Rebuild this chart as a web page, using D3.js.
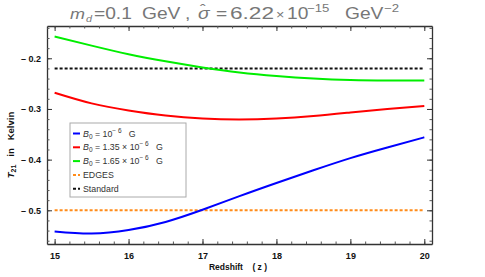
<!DOCTYPE html>
<html>
<head>
<meta charset="utf-8">
<script src="https://cdn.jsdelivr.net/npm/d3@7"></script>
<style>
  body { margin: 0; background: #fff; }
  svg { display: block; }
</style>
</head>
<body>
<div id="chart"></div>
<script>
// datos
const redshift = [15, 15.5, 16, 16.5, 17, 17.5, 18, 18.5, 19, 19.5, 20];
const tB1 = [-0.542, -0.546, -0.539, -0.523, -0.499, -0.472, -0.446, -0.421, -0.397, -0.376, -0.356];
const tB135 = [-0.268, -0.289, -0.303, -0.313, -0.319, -0.321, -0.319, -0.314, -0.307, -0.300, -0.294];
const tB165 = [-0.157, -0.175, -0.192, -0.206, -0.218, -0.228, -0.235, -0.240, -0.243, -0.244, -0.244];
const edges = -0.5;
const standard = -0.22;
const xTicks = [15, 16, 17, 18, 19, 20];
const yTicks = [-0.2, -0.3, -0.4, -0.5];

const W = 485, H = 277;
const margin = {top: 26, right: 53, bottom: 33, left: 47};

const svg = d3.select("#chart").append("svg")
    .attr("width", W)
    .attr("height", H)
    .style("font-family", "Liberation Sans, Arial, sans-serif");

// Escalas
const x = d3.scaleLinear()
    .domain([14.897, 20.104])
    .range([margin.left, W - margin.right]);
const y = d3.scaleLinear()
    .domain([-0.5665, -0.1363])
    .range([H - margin.bottom, margin.top]);

// Ejes con ticks hacia adentro
const xMinor = d3.range(15, 20.01, 0.2);
const yMinor = d3.range(-0.56, -0.139, 0.02);

function frameAxis(axis, transform) {
    svg.append("g")
        .attr("transform", transform)
        .call(axis)
        .call(g => g.select(".domain").attr("stroke", "#333").attr("stroke-width", 1.3))
        .call(g => g.selectAll(".tick line").attr("stroke", "#555"));
}

// minor
frameAxis(d3.axisBottom(x).tickValues(xMinor).tickSizeInner(-2.5).tickSizeOuter(0).tickFormat(""),
    `translate(0,${H - margin.bottom})`);
frameAxis(d3.axisTop(x).tickValues(xMinor).tickSizeInner(-2.5).tickSizeOuter(0).tickFormat(""),
    `translate(0,${margin.top})`);
frameAxis(d3.axisLeft(y).tickValues(yMinor).tickSizeInner(-2.5).tickSizeOuter(0).tickFormat(""),
    `translate(${margin.left},0)`);
frameAxis(d3.axisRight(y).tickValues(yMinor).tickSizeInner(-2.5).tickSizeOuter(0).tickFormat(""),
    `translate(${W - margin.right},0)`);

// major
const xAxis = svg.append("g")
    .attr("transform", `translate(0,${H - margin.bottom})`)
    .call(d3.axisBottom(x).tickValues(xTicks).tickSizeInner(-5).tickSizeOuter(0).tickPadding(9).tickFormat(d3.format("d")));
xAxis.select(".domain").remove();
xAxis.selectAll(".tick line").attr("stroke", "#333");
xAxis.selectAll("text").attr("font-size", 9).attr("font-weight", "bold").attr("fill", "#111");

const yAxis = svg.append("g")
    .attr("transform", `translate(${margin.left},0)`)
    .call(d3.axisLeft(y).tickValues(yTicks).tickSizeInner(-5).tickSizeOuter(0).tickPadding(6)
        .tickFormat(d => "\u2013 " + d3.format(".1f")(Math.abs(d))));
yAxis.select(".domain").remove();
yAxis.selectAll(".tick line").attr("stroke", "#333");
yAxis.selectAll("text").attr("font-size", 9).attr("font-weight", "bold").attr("fill", "#111");

svg.append("g")
    .attr("transform", `translate(0,${margin.top})`)
    .call(d3.axisTop(x).tickValues(xTicks).tickSizeInner(-5).tickSizeOuter(0).tickFormat(""))
    .call(g => g.select(".domain").remove())
    .call(g => g.selectAll(".tick line").attr("stroke", "#333"));
svg.append("g")
    .attr("transform", `translate(${W - margin.right},0)`)
    .call(d3.axisRight(y).tickValues(yTicks).tickSizeInner(-5).tickSizeOuter(0).tickFormat(""))
    .call(g => g.select(".domain").remove())
    .call(g => g.selectAll(".tick line").attr("stroke", "#333"));

// Lineas horizontales
svg.append("line")
    .attr("x1", x(15)).attr("x2", x(20))
    .attr("y1", y(standard)).attr("y2", y(standard))
    .attr("stroke", "#111").attr("stroke-width", 2).attr("stroke-dasharray", "3,2");
svg.append("line")
    .attr("x1", x(15)).attr("x2", x(20))
    .attr("y1", y(edges)).attr("y2", y(edges))
    .attr("stroke", "#ff8c1a").attr("stroke-width", 2).attr("stroke-dasharray", "3,2");

// Curvas
const line = d3.line()
    .x(d => x(d[0]))
    .y(d => y(d[1]))
    .curve(d3.curveNatural);

const series = [
    {vals: tB165, color: "#00ee00"},
    {vals: tB135, color: "#ff0000"},
    {vals: tB1, color: "#0000ff"}
];
series.forEach(s => {
    svg.append("path")
        .datum(redshift.map((z, i) => [z, s.vals[i]]))
        .attr("d", line)
        .attr("fill", "none")
        .attr("stroke", s.color)
        .attr("stroke-width", 2);
});

// Titulo (texto un poco ensanchado, como en el original)
const sx = 1.2;
const title = svg.append("g")
    .attr("transform", `scale(${sx},1)`)
    .append("text")
    .attr("y", 19)
    .attr("font-size", 16)
    .attr("fill", "#777");
const px = v => v / sx;
title.append("tspan").attr("x", px(70)).attr("font-style", "italic").attr("font-size", 15).text("m");
title.append("tspan").attr("x", px(86)).attr("font-style", "italic").attr("font-size", 9).attr("dy", 3).text("d");
title.append("tspan").attr("x", px(94)).attr("dy", -3).text("=0.1");
title.append("tspan").attr("x", px(142)).text("GeV");
title.append("tspan").attr("x", px(185)).text(",");
title.append("tspan").attr("x", px(198)).attr("font-style", "italic").text("\u03C3");
title.append("tspan").attr("x", px(200)).attr("dy", -4).attr("font-size", 14).text("\u02C6");
title.append("tspan").attr("x", px(216)).attr("dy", 4).text("=");
title.append("tspan").attr("x", px(230)).attr("textLength", px(44)).attr("lengthAdjust", "spacingAndGlyphs").text("6.22");
title.append("tspan").attr("x", px(276)).attr("font-size", 12).text("\u00D7");
title.append("tspan").attr("x", px(287)).text("10");
title.append("tspan").attr("x", px(307)).attr("font-size", 11).attr("dy", -7).text("\u221215");
title.append("tspan").attr("x", px(345)).attr("dy", 7).text("GeV");
title.append("tspan").attr("x", px(384)).attr("font-size", 11).attr("dy", -7).text("\u22122");

svg.append("text")
    .attr("x", 238).attr("y", 270)
    .attr("text-anchor", "middle")
    .attr("font-size", 8.5)
    .attr("font-weight", "bold")
    .attr("fill", "#111")
    .attr("xml:space", "preserve")
    .text("Redshift    ( z )");

const yl = svg.append("text")
    .attr("transform", "translate(14,145) rotate(-90)")
    .attr("text-anchor", "middle")
    .attr("font-size", 9.5)
    .attr("font-weight", "bold")
    .attr("fill", "#111")
    .attr("xml:space", "preserve");
yl.append("tspan").attr("font-style", "italic").text("T");
yl.append("tspan").attr("font-size", 7).attr("dy", 2).text("21");
yl.append("tspan").attr("dy", -2).text("   in   Kelvin");

// Leyenda
const legendItems = [
    {color: "#0000ff", dash: null, parts: ["10", "\u2212 6", "   G"]},
    {color: "#ff0000", dash: null, parts: ["1.35 \u00D7 10", "\u2212 6", "   G"]},
    {color: "#00ee00", dash: null, parts: ["1.65 \u00D7 10", "\u2212 6", "   G"]},
    {color: "#ff8c1a", dash: "3,2", label: "EDGES"},
    {color: "#111", dash: "3,2", label: "Standard"}
];
const legend = svg.append("g").attr("transform", "translate(70,123)");
legend.append("rect")
    .attr("width", 116).attr("height", 74)
    .attr("fill", "#fff").attr("stroke", "#aaa").attr("stroke-width", 1);
legendItems.forEach((d, i) => {
    const gy = 10.5 + i * 13.8;
    legend.append("line")
        .attr("x1", 3).attr("x2", 10)
        .attr("y1", gy).attr("y2", gy)
        .attr("stroke", d.color).attr("stroke-width", 2)
        .attr("stroke-dasharray", d.dash);
    const t = legend.append("text")
        .attr("x", 13).attr("y", gy + 3)
        .attr("font-size", 8.8)
        .attr("fill", "#333")
        .attr("xml:space", "preserve");
    if (d.label) {
        t.text(d.label);
    } else {
        t.append("tspan").attr("font-style", "italic").text("B");
        t.append("tspan").attr("font-size", 6.5).attr("dy", 2).text("0");
        t.append("tspan").attr("dy", -2).text(" = " + d.parts[0]);
        t.append("tspan").attr("font-size", 6.5).attr("dy", -4).text(d.parts[1]);
        t.append("tspan").attr("dy", 4).text(d.parts[2]);
    }
});
</script>
</body>
</html>
